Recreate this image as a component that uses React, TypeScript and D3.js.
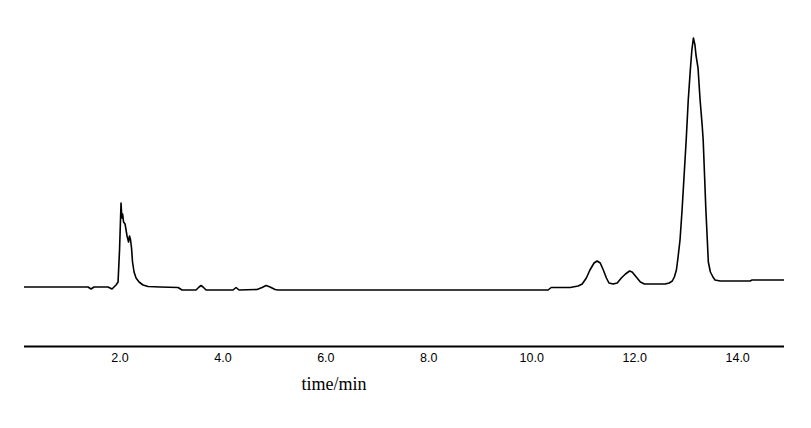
import React from "react";
import * as d3 from "d3";

// retention time (min)
const times: number[] = [
  0.136, 0.836, 1.38, 1.438, 1.496, 1.768, 1.846, 1.885, 1.924, 1.963, 1.992, 2.021, 2.037, 2.052, 2.07,
  2.099, 2.138, 2.167, 2.186, 2.206, 2.225, 2.244, 2.274, 2.313, 2.371, 2.448, 2.546, 2.779, 3.129, 3.206,
  3.478, 3.537, 3.576, 3.614, 3.673, 4.197, 4.256, 4.314, 4.664, 4.761, 4.839, 4.916, 5.014, 5.072,
  10.318, 10.377, 10.746, 10.901, 10.98, 11.06, 11.13, 11.21, 11.27, 11.33, 11.39, 11.45, 11.5, 11.58,
  11.66, 11.74, 11.82, 11.9, 11.95, 12.03, 12.11, 12.19, 12.3, 12.5, 12.59, 12.67, 12.73, 12.77, 12.81,
  12.84, 12.88, 12.92, 12.96, 13.0, 13.04, 13.08, 13.11, 13.14, 13.17, 13.19, 13.23, 13.27, 13.31, 13.33,
  13.36, 13.38, 13.41, 13.43, 13.47, 13.52, 13.56, 13.66, 14.24, 14.28, 14.9,
];
// detector signal
const signal: number[] = [
  3, 3, 3, 1, 3, 3, 1, 3, 5, 8, 40, 87, 72, 76, 68,
  66, 54, 48, 54, 50, 42, 28, 18, 12, 8, 5, 3.5, 3, 2.5, 0,
  0, 3, 4.5, 3, 0, 0, 2.5, 0, 0.5, 2.5, 4.5, 3, 0.5, 0,
  0, 2.5, 2.5, 4, 6, 12, 20, 27, 29, 27, 20, 12, 7, 6,
  7, 12, 16, 19, 18, 13, 8, 6, 6, 6, 6, 7, 9, 13, 20,
  32, 50, 80, 115, 150, 190, 220, 240, 252, 245, 235, 222, 190, 165, 150,
  110, 83, 50, 28, 18, 13, 10, 9, 9, 10, 10,
];
const tickValues: number[] = [2, 4, 6, 8, 10, 12, 14];
const xTitle = "time/min";

export default function App() {
  const width = 811;
  const height = 428;
  const x = d3.scaleLinear().domain([0.136, 14.9]).range([24, 784]);
  const y = d3.scaleLinear().domain([0, 252]).range([290, 38]);
  const pts = times.map((t, i) => [t, signal[i]] as [number, number]);
  const line = d3
    .line<[number, number]>()
    .x((d) => x(d[0]))
    .y((d) => y(d[1]));
  const axisY = 346.5;
  return (
    <svg
      width={width}
      height={height}
      style={{ position: "absolute", left: 0, top: 0, background: "#fff" }}
    >
      <rect x={0} y={0} width={width} height={height} fill="#fff" />
      <path d={line(pts) || ""} fill="none" stroke="#000" strokeWidth={1.6} strokeLinejoin="round" />
      <line x1={x(0.136)} x2={x(14.9)} y1={axisY} y2={axisY} stroke="#000" strokeWidth={2} />
      {tickValues.map((t) => (
        <text
          key={t}
          x={x(t)}
          y={362}
          textAnchor="middle"
          fontFamily="Liberation Sans, Arial, sans-serif"
          fontSize={12.5}
          fill="#000"
        >
          {t.toFixed(1)}
        </text>
      ))}
      <text
        x={334}
        y={390}
        textAnchor="middle"
        fontFamily="Liberation Serif, Times New Roman, serif"
        fontSize={18}
        fill="#000"
      >
        {xTitle}
      </text>
    </svg>
  );
}
